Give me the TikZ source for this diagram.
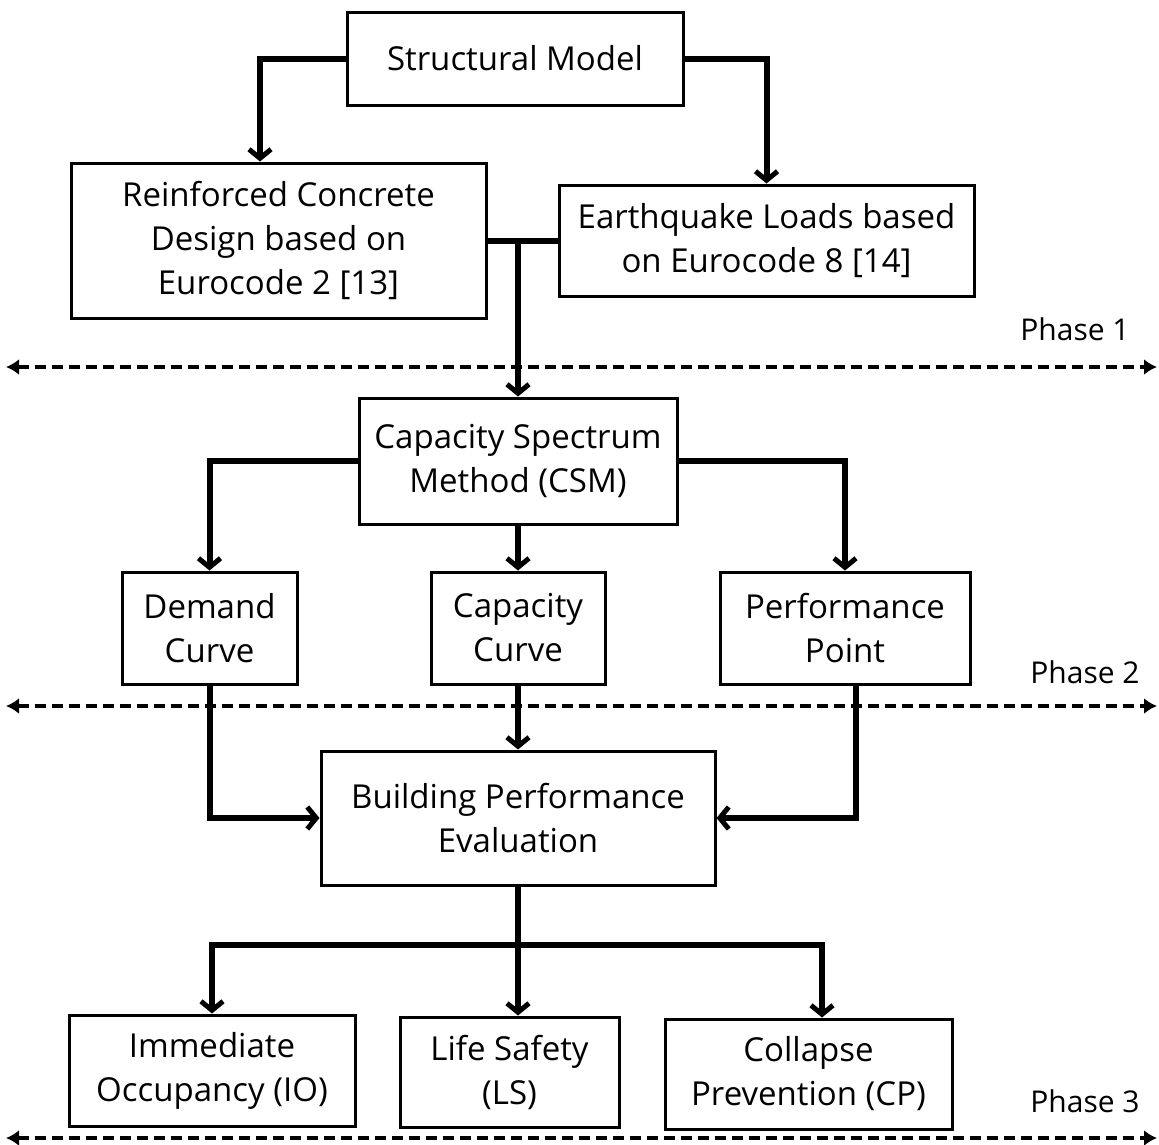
\documentclass[tikz,border=0pt]{standalone}
\usepackage{fontspec}
\setmainfont{Open Sans}
\usetikzlibrary{arrows.meta}

\begin{document}
\begin{tikzpicture}[x=1pt, y=-1pt,
  box/.style={draw, line width=3pt, align=center, inner sep=2pt,
    font=\fontsize{33}{44}\selectfont},
  link/.style={line width=6pt, -{Straight Barb[length=9pt, width=22pt, line width=5pt]}},
  joint/.style={line width=6pt},
  phaseline/.style={line width=3.5pt, dash pattern=on 11pt off 6pt,
    {Latex[length=13pt, width=16pt]}-{Latex[length=13pt, width=16pt]}},
  phase/.style={font=\fontsize{30}{34}\selectfont}]
  \useasboundingbox (0,0) rectangle (1159,1144);
  % phase 1
  \node[box, minimum width=336pt, minimum height=93pt] (model) at (515,58.5) {Structural Model};
  \node[box, minimum width=415pt, minimum height=155pt] (rc) at (278.5,240.5) {Reinforced Concrete\\Design based on\\Eurocode 2 [13]};
  \node[box, minimum width=415pt, minimum height=111pt] (eq) at (766.5,240.5) {Earthquake Loads based\\on Eurocode 8 [14]};
  \draw[link] (model.west) -| ([xshift=-18.5pt]rc.north);
  \draw[link] (model.east) -| (eq.north);
  \node[phase] (p1) at (1075,329) {Phase 1};
  \coordinate (d1l) at (6,367);
  \coordinate (d1r) at (1157,367);
  \draw[phaseline] (d1l) -- (d1r);
  % phase 2
  \node[box, minimum width=318pt, minimum height=126pt] (csm) at (518,461) {Capacity Spectrum\\Method (CSM)};
  \draw[joint] (rc.east) -- (eq.west);
  \draw[link] (rc.east -| csm.north) -- (csm.north);
  \node[box, minimum width=175pt, minimum height=112pt] (demand) at (209.5,628) {Demand\\Curve};
  \node[box, minimum width=174pt, minimum height=112pt] (capacity) at (518,628) {Capacity\\Curve};
  \node[box, minimum width=250pt, minimum height=112pt] (perf) at (845,628) {Performance\\Point};
  \draw[link] (csm.west) -| (demand.north);
  \draw[link] (csm.south) -- (capacity.north);
  \draw[link] (csm.east) -| (perf.north);
  \node[phase] (p2) at (1085,672) {Phase 2};
  \coordinate (d2l) at (6,706);
  \coordinate (d2r) at (1157,706);
  \draw[phaseline] (d2l) -- (d2r);
  % phase 3
  \node[box, minimum width=394pt, minimum height=134pt] (eval) at (518,818) {Building Performance\\Evaluation};
  \draw[link] (demand.south) |- (eval.west);
  \draw[link] (capacity.south) -- (eval.north);
  \draw[link] ([xshift=11pt]perf.south) |- (eval.east);
  \node[box, minimum width=286pt, minimum height=111pt] (io) at (212,1070.5) {Immediate\\Occupancy (IO)};
  \node[box, minimum width=219pt, minimum height=110pt] (ls) at (509.5,1072) {Life Safety\\(LS)};
  \node[box, minimum width=287pt, minimum height=110pt] (cp) at (808.5,1074) {Collapse\\Prevention (CP)};
  \coordinate (hub) at ([yshift=-58pt]eval.south);
  \draw[link] (hub) -| (io.north);
  \draw[link] (hub) -| ([xshift=13.5pt]cp.north);
  \draw[link] (eval.south) -- (eval.south |- ls.north);
  \node[phase] (p3) at (1085,1101) {Phase 3};
  \coordinate (d3l) at (6,1138);
  \coordinate (d3r) at (1157,1138);
  \draw[phaseline] (d3l) -- (d3r);
\end{tikzpicture}
\end{document}
